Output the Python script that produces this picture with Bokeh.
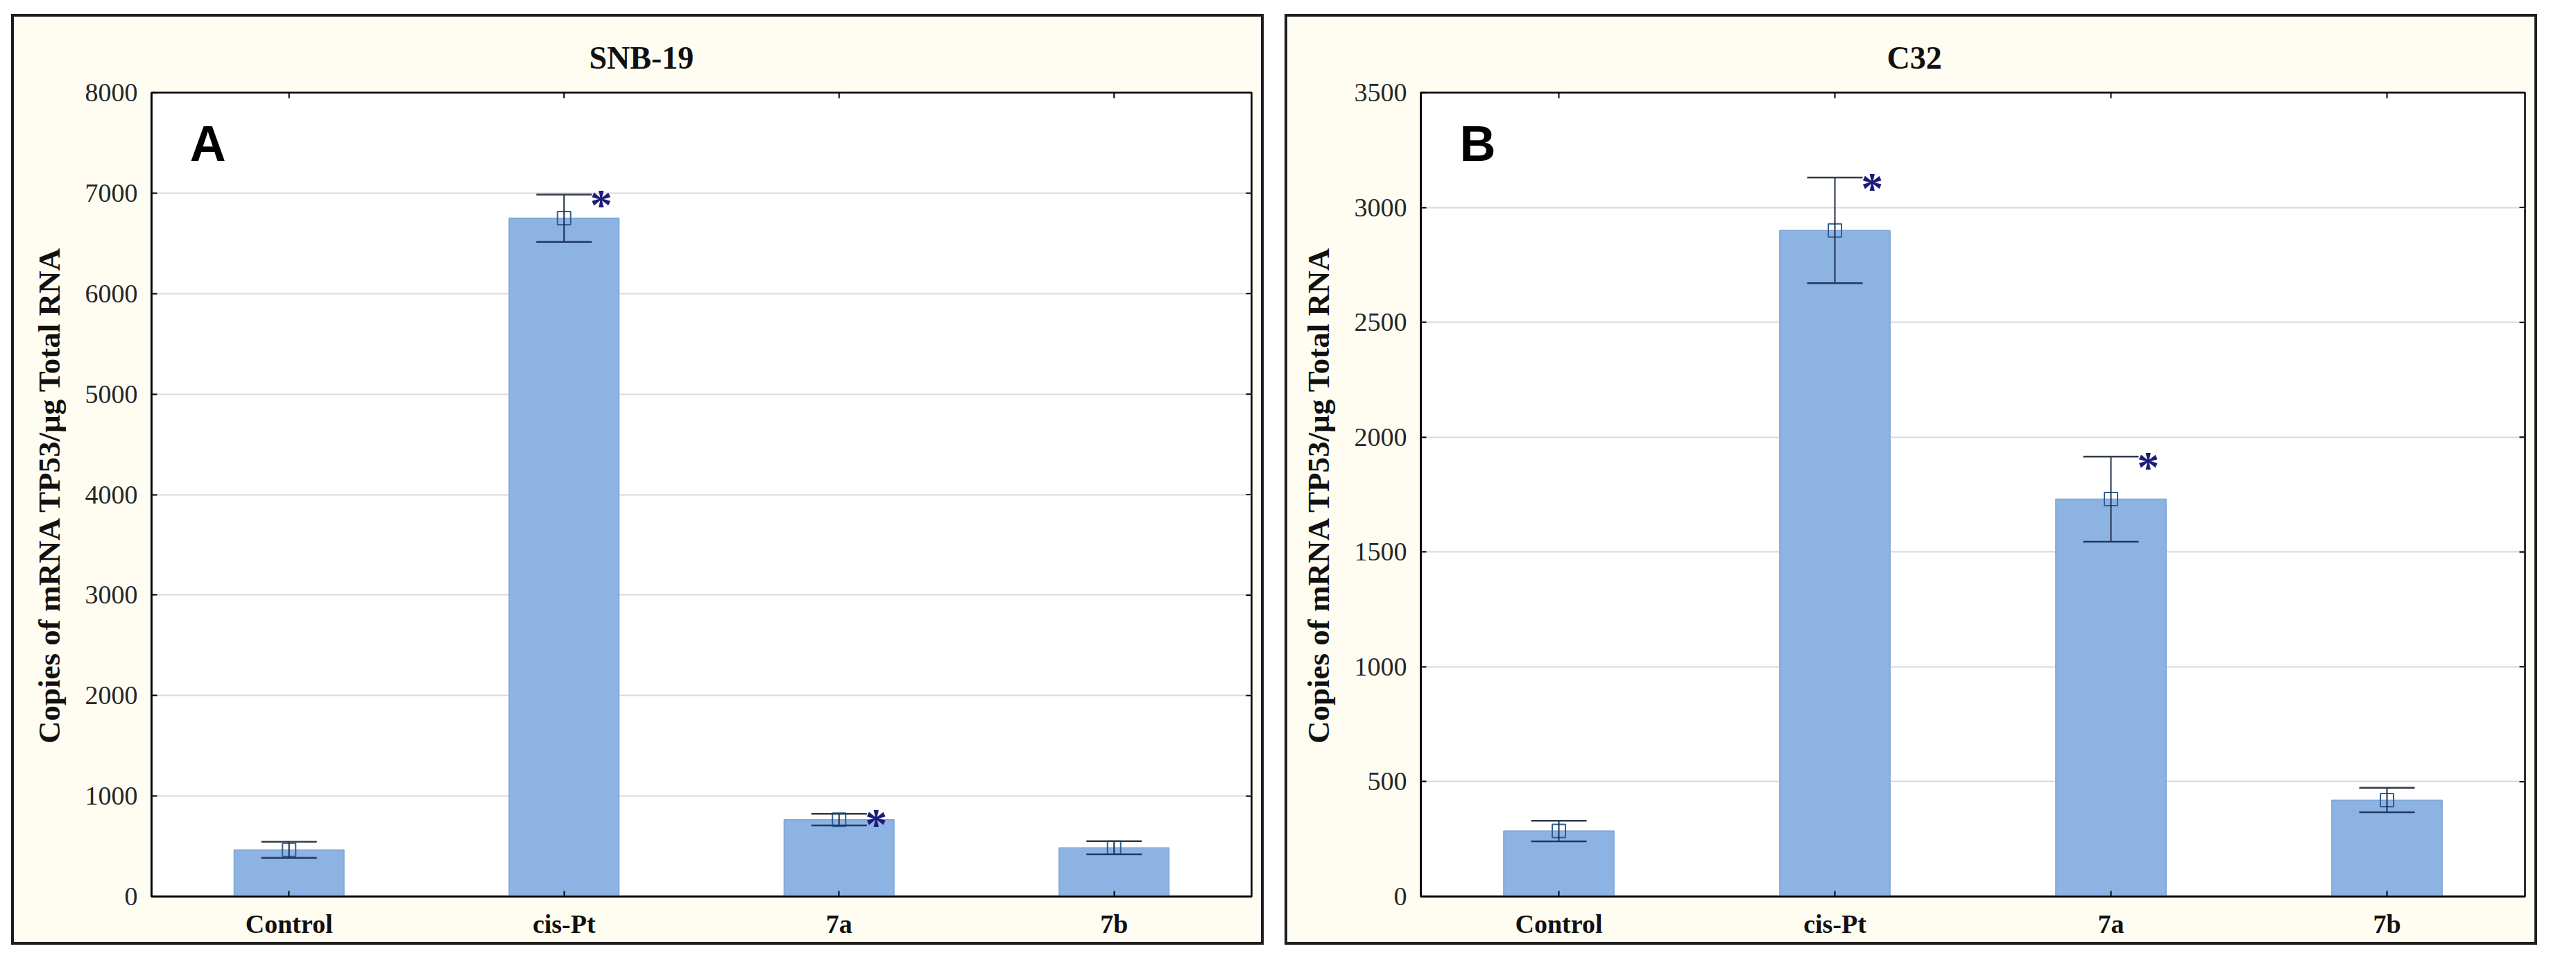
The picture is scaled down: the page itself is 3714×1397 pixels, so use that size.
import math
from bokeh.plotting import figure
from bokeh.models import (ColumnDataSource, FactorRange, Range1d, SingleIntervalTicker,
                          Whisker, TeeHead, Spacer)
from bokeh.transform import dodge
from bokeh.layouts import row, column
from bokeh.core.properties import value
from bokeh.embed import file_html
from bokeh.resources import INLINE

# ---------------- data ----------------
categories = ["Control", "cis-Pt", "7a", "7b"]

snb19_title = "SNB-19"
snb19_mean = [465, 6750, 765, 485]
snb19_err = [80, 235, 58, 65]
snb19_sig = [False, True, True, False]
snb19_ymax = 8000
snb19_step = 1000

c32_title = "C32"
c32_mean = [285, 2900, 1730, 420]
c32_err = [45, 230, 185, 53]
c32_sig = [False, True, True, False]
c32_ymax = 3500
c32_step = 500

y_label = "Copies of mRNA TP53/µg Total RNA"
panel_letters = ["A", "B"]

SERIF = "Liberation Serif"
SANS = "Liberation Sans"


def make_panel(title, means, errs, sig, ymax, step, letter, mb_left, mb_top, title_offset):
    upper = [m + e for m, e in zip(means, errs)]
    lower = [m - e for m, e in zip(means, errs)]
    src = ColumnDataSource(dict(cat=categories, mean=means, upper=upper, lower=lower))
    sig_cats = [c for c, s in zip(categories, sig) if s]
    sig_up = [u for u, s in zip(upper, sig) if s]
    sig_src = ColumnDataSource(dict(cat=sig_cats, y=sig_up, t=["*"] * len(sig_cats)))

    p = figure(x_range=FactorRange(*categories), y_range=Range1d(0, ymax),
               width=1806, height=1342, output_backend="svg", toolbar_location=None,
               min_border_left=mb_left, min_border_right=22, min_border_top=mb_top,
               min_border_bottom=74,
               background_fill_color="white", border_fill_color="#FFFCF2",
               outline_line_color="black", outline_line_width=2.5,
               styles={"border": "4px solid #1E1E1E"})

    p.title.text = title
    p.title.align = "left"
    p.title.offset = title_offset
    p.title.text_font = SERIF
    p.title.text_font_style = "bold"
    p.title.text_font_size = "46px"
    p.title.text_line_height = 1.0
    p.title.text_color = "#111111"
    p.title.standoff = 50

    ticker = SingleIntervalTicker(interval=step)
    p.yaxis.ticker = ticker
    p.ygrid.ticker = ticker
    p.xgrid.grid_line_color = None
    p.ygrid.grid_line_color = "#D9D9D9"
    p.ygrid.grid_line_width = 2

    for ax in (p.xaxis[0], p.yaxis[0]):
        ax.axis_line_width = 2.5
        ax.axis_line_color = "black"
        ax.major_tick_in = 8
        ax.major_tick_out = 0
        ax.major_tick_line_width = 2
        ax.minor_tick_line_color = None

    p.yaxis.major_label_text_font = SERIF
    p.yaxis.major_label_text_font_size = "38px"
    p.yaxis.major_label_text_color = "#262626"
    p.yaxis.major_label_standoff = 16
    p.yaxis.axis_label = y_label
    p.yaxis.axis_label_text_font = SERIF
    p.yaxis.axis_label_text_font_style = "bold"
    p.yaxis.axis_label_text_font_size = "45px"
    p.yaxis.axis_label_text_color = "#111111"
    p.yaxis.axis_label_standoff = 24

    p.xaxis.major_label_text_font = SERIF
    p.xaxis.major_label_text_font_style = "bold"
    p.xaxis.major_label_text_font_size = "38px"
    p.xaxis.major_label_text_color = "#111111"
    p.xaxis.major_label_standoff = 18

    # mirror ticks on the top and right frame edges (half of each dash is clipped by the frame)
    tick_vals = list(range(step, ymax, step))
    rsrc = ColumnDataSource(dict(cat=[categories[-1]] * len(tick_vals), y=tick_vals))
    p.scatter(x=dodge("cat", 0.5, range=p.x_range), y="y", source=rsrc, marker="dash",
              size=16, line_color="black", line_width=2)
    tsrc = ColumnDataSource(dict(cat=categories, y=[ymax] * len(categories)))
    p.scatter(x="cat", y="y", source=tsrc, marker="dash", angle=math.pi / 2,
              size=16, line_color="black", line_width=2)

    p.vbar(x="cat", top="mean", width=0.40, source=src,
           fill_color="#8DB3E2", line_color="#7DA5D8", line_width=1.5)

    wh = Whisker(base="cat", upper="upper", lower="lower", source=src, level="annotation",
                 line_color="#1F2D4A", line_width=2,
                 upper_head=TeeHead(size=80, line_color="#333A48", line_width=2.5),
                 lower_head=TeeHead(size=80, line_color="#1F3A66", line_width=2.5))
    p.add_layout(wh)

    p.scatter(x="cat", y="mean", marker="square", size=19, fill_alpha=0,
              line_color="#2E5E94", line_width=2, source=src)

    p.text(x=dodge("cat", 0.135, range=p.x_range), y="y", text="t", source=sig_src,
           text_font=value(SERIF), text_font_style="bold", text_font_size="64px",
           text_color="#1B1B7A", text_align="center", text_baseline="middle", y_offset=15)

    lsrc = ColumnDataSource(dict(cat=[categories[0]], y=[ymax], t=[letter]))
    p.text(x="cat", y="y", text="t", source=lsrc, x_offset=-143, y_offset=33,
           text_font=value(SANS), text_font_style="bold", text_font_size="72px",
           text_color="black", text_align="left", text_baseline="top")
    return p


pA = make_panel(snb19_title, snb19_mean, snb19_err, snb19_sig, snb19_ymax, snb19_step,
                panel_letters[0], 198, 106, 631)
pB = make_panel(c32_title, c32_mean, c32_err, c32_sig, c32_ymax, c32_step,
                panel_letters[1], 192, 109, 672)

layout = column(Spacer(width=10, height=20),
                row(Spacer(width=16, height=10), pA, Spacer(width=30, height=10), pB))
open("out.html", "w").write(file_html(layout, INLINE))
